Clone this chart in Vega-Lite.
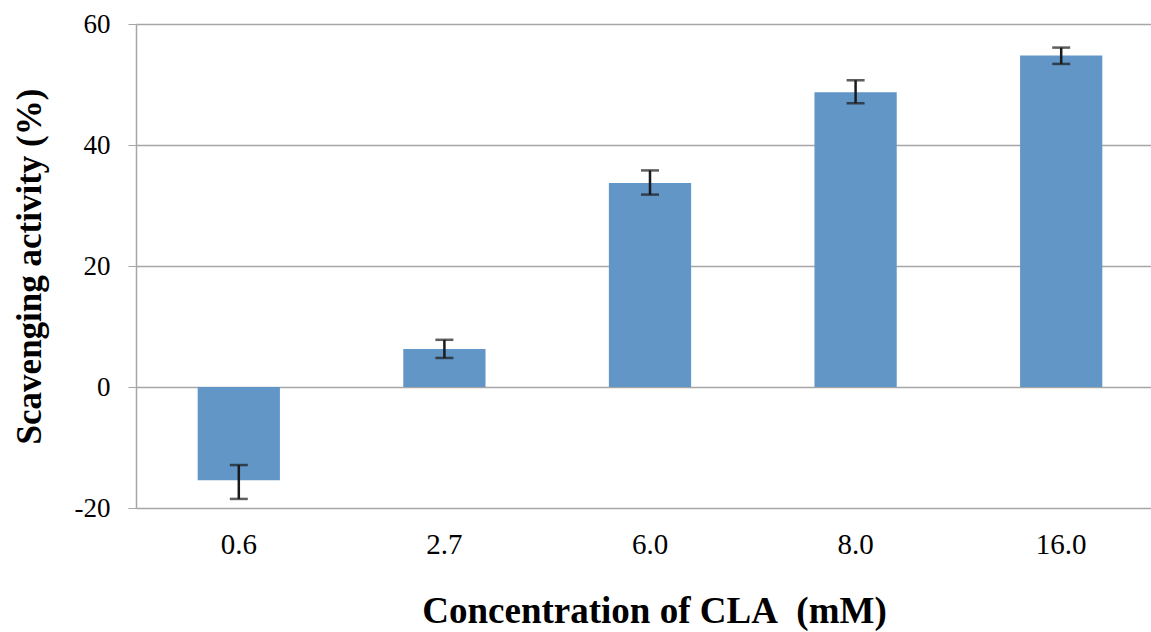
{
  "$schema": "https://vega.github.io/schema/vega-lite/v6.json",
  "width": 1028,
  "height": 484,
  "autosize": {"type": "none"},
  "padding": {"left": 136, "top": 24, "right": 0, "bottom": 124},
  "background": "white",
  "config": {
    "view": {"stroke": null},
    "font": "Liberation Serif"
  },
  "data": {
    "values": [
      {"conc": "0.6", "mean": -15.4, "lo": -18.5, "hi": -12.9},
      {"conc": "2.7", "mean": 6.3, "lo": 4.8, "hi": 7.8},
      {"conc": "6.0", "mean": 33.7, "lo": 31.8, "hi": 35.8},
      {"conc": "8.0", "mean": 48.7, "lo": 46.9, "hi": 50.7},
      {"conc": "16.0", "mean": 54.8, "lo": 53.4, "hi": 56.1}
    ]
  },
  "encoding": {
    "x": {
      "field": "conc",
      "type": "nominal",
      "sort": null,
      "scale": {"paddingInner": 0.6, "paddingOuter": 0.3},
      "axis": {
        "title": "Concentration of CLA\u00a0\u00a0(mM)",
        "titleFont": "Liberation Serif",
        "titleFontSize": 37,
        "titleFontWeight": "bold",
        "titleColor": "black",
        "titlePadding": 34,
        "titleX": 518,
        "labelFont": "Liberation Serif",
        "labelFontSize": 29,
        "labelColor": "black",
        "labelAngle": 0,
        "labelPadding": 22,
        "ticks": false,
        "domain": false
      }
    }
  },
  "layer": [
    {
      "mark": {"type": "bar", "color": "#6196C6"},
      "encoding": {
        "y": {
          "field": "mean",
          "type": "quantitative",
          "scale": {"domain": [-20, 60], "nice": false},
          "axis": {
            "values": [-20, 0, 20, 40, 60],
            "labelExpr": "datum.value < 0 ? '-' + abs(datum.value) : '' + datum.value",
            "title": "Scavenging activity (%)",
            "titleFont": "Liberation Serif",
            "titleFontSize": 35,
            "titleFontWeight": "bold",
            "titleColor": "black",
            "titlePadding": 27,
            "labelFont": "Liberation Serif",
            "labelFontSize": 27,
            "labelColor": "black",
            "labelPadding": 18,
            "tickSize": 8,
            "tickColor": "#a6a6a6",
            "domainColor": "#a6a6a6",
            "domainWidth": 1.5,
            "grid": true,
            "gridColor": "#a6a6a6",
            "gridWidth": 1.5
          }
        }
      }
    },
    {
      "mark": {"type": "rule", "color": "#1a1a1a", "strokeWidth": 2.5},
      "encoding": {
        "y": {"field": "lo", "type": "quantitative"},
        "y2": {"field": "hi"}
      }
    },
    {
      "mark": {"type": "tick", "color": "#1a1a1a", "size": 18, "thickness": 2.5},
      "encoding": {
        "y": {"field": "lo", "type": "quantitative"}
      }
    },
    {
      "mark": {"type": "tick", "color": "#1a1a1a", "size": 18, "thickness": 2.5},
      "encoding": {
        "y": {"field": "hi", "type": "quantitative"}
      }
    }
  ]
}
